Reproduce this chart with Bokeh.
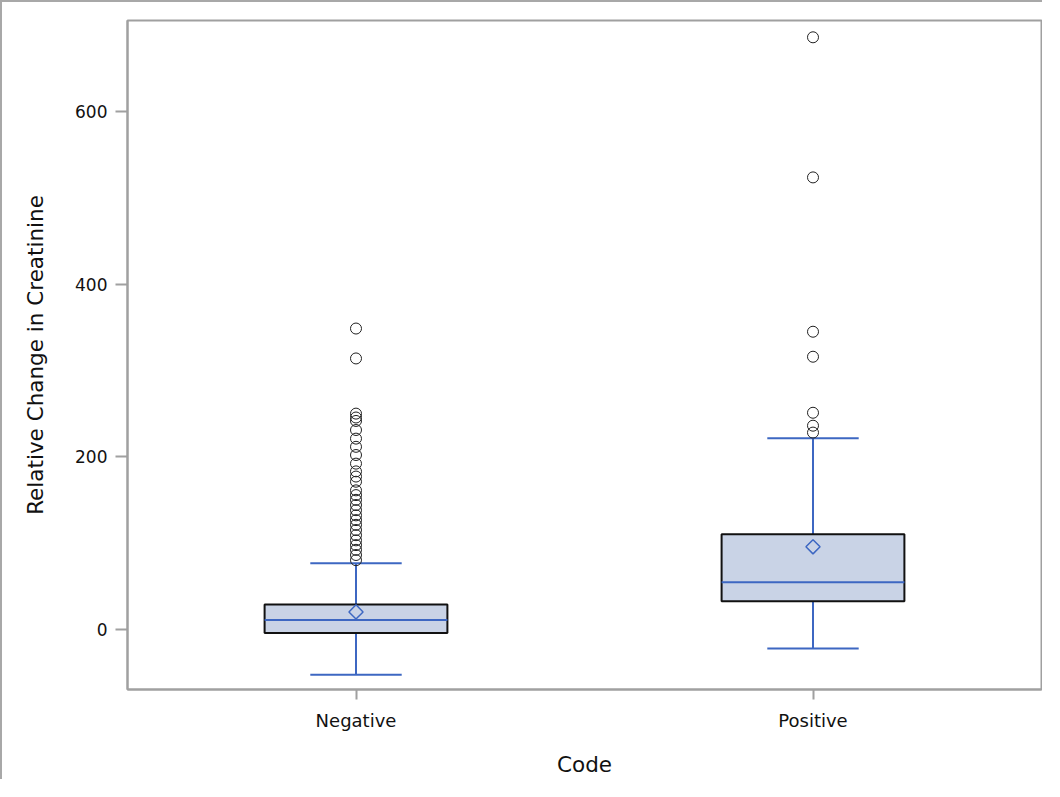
import math
from bokeh.plotting import figure
from bokeh.models import ColumnDataSource, FactorRange, Range1d, FixedTicker
from bokeh.transform import dodge
from bokeh.embed import file_html
from bokeh.resources import INLINE

# ---- data ----
categories = ["Negative", "Positive"]
q1 = [-4.6, 32.5]
median = [10.6, 54.4]
q3 = [28.5, 110.0]
mean = [20.0, 95.5]
whisker_low = [-53.0, -22.5]
whisker_high = [76.5, 221.5]
outliers_negative = [348.7, 314.0, 250.0, 245.5, 241.5, 231.0, 221.0, 211.5, 202.0,
                     192.0, 183.0, 177.0, 171.0, 161.0, 155.5, 150.0, 144.0, 138.0,
                     132.0, 126.5, 121.0, 115.0, 109.0, 103.0, 97.5, 92.0, 86.0, 80.0]
outliers_positive = [686.5, 524.0, 345.0, 316.0, 251.0, 236.0, 228.0]
y_ticks = [0, 200, 400, 600]

FONT = "DejaVu Sans"
GRAY = "#a0a0a0"
BLUE = "#3d67c2"
FILL = "#c9d3e6"

stats = ColumnDataSource(dict(cat=categories, q1=q1, med=median, q3=q3, mean=mean,
                              lo=whisker_low, hi=whisker_high))
out_src = ColumnDataSource(dict(
    cat=["Negative"] * len(outliers_negative) + ["Positive"] * len(outliers_positive),
    y=outliers_negative + outliers_positive))

p = figure(x_range=FactorRange(*categories, range_padding=0),
           y_range=Range1d(-70, 706),
           width=1042, height=779,
           output_backend="svg", toolbar_location=None,
           min_border_left=125, min_border_top=18,
           min_border_right=3, min_border_bottom=92)
p.styles = {"border-top": "2px solid #a8a8a8", "border-left": "2px solid #a8a8a8"}

BOX_W = 0.4
CAP_W = 0.2

# whiskers
p.segment(x0="cat", y0="q3", x1="cat", y1="hi", source=stats, line_color=BLUE, line_width=2)
p.segment(x0="cat", y0="q1", x1="cat", y1="lo", source=stats, line_color=BLUE, line_width=2)
p.segment(x0=dodge("cat", -CAP_W / 2, range=p.x_range), y0="hi",
          x1=dodge("cat", CAP_W / 2, range=p.x_range), y1="hi",
          source=stats, line_color=BLUE, line_width=2)
p.segment(x0=dodge("cat", -CAP_W / 2, range=p.x_range), y0="lo",
          x1=dodge("cat", CAP_W / 2, range=p.x_range), y1="lo",
          source=stats, line_color=BLUE, line_width=2)

# boxes
p.vbar(x="cat", bottom="q1", top="q3", width=BOX_W, source=stats,
       fill_color=FILL, line_color="#111111", line_width=2)
# median
p.segment(x0=dodge("cat", -BOX_W / 2, range=p.x_range), y0="med",
          x1=dodge("cat", BOX_W / 2, range=p.x_range), y1="med",
          source=stats, line_color=BLUE, line_width=2)
# mean diamond
p.scatter(x="cat", y="mean", source=stats, marker="square", angle=math.pi / 4,
          size=10, fill_color=None, line_color=BLUE, line_width=1.5)

# outliers
p.scatter(x="cat", y="y", source=out_src, marker="circle", size=11,
          fill_color=None, line_color="#222222", line_width=1)

# styling
p.xgrid.visible = False
p.ygrid.visible = False
p.outline_line_color = GRAY
p.outline_line_width = 2
p.background_fill_color = "white"
p.border_fill_color = "white"

p.yaxis.ticker = FixedTicker(ticks=y_ticks)
p.yaxis.axis_label = "Relative Change in Creatinine"
p.xaxis.axis_label = "Code"

for ax in (p.xaxis, p.yaxis):
    ax.axis_line_color = GRAY
    ax.axis_line_width = 2
    ax.major_tick_line_color = GRAY
    ax.major_tick_line_width = 2
    ax.minor_tick_line_color = None
    ax.major_tick_in = 0
    ax.major_label_text_font = FONT
    ax.major_label_text_color = "#111111"
    ax.axis_label_text_font = FONT
    ax.axis_label_text_font_style = "normal"
    ax.axis_label_text_font_size = "21.5px"
    ax.axis_label_text_color = "#111111"

p.yaxis.major_tick_out = 12
p.yaxis.major_label_standoff = 8
p.yaxis.major_label_text_font_size = "17px"
p.yaxis.axis_label_standoff = 24

p.xaxis.major_tick_out = 10
p.xaxis.major_label_standoff = 10
p.xaxis.major_label_text_font_size = "18px"
p.xaxis.axis_label_standoff = 18

open("out.html", "w").write(file_html(p, INLINE))
